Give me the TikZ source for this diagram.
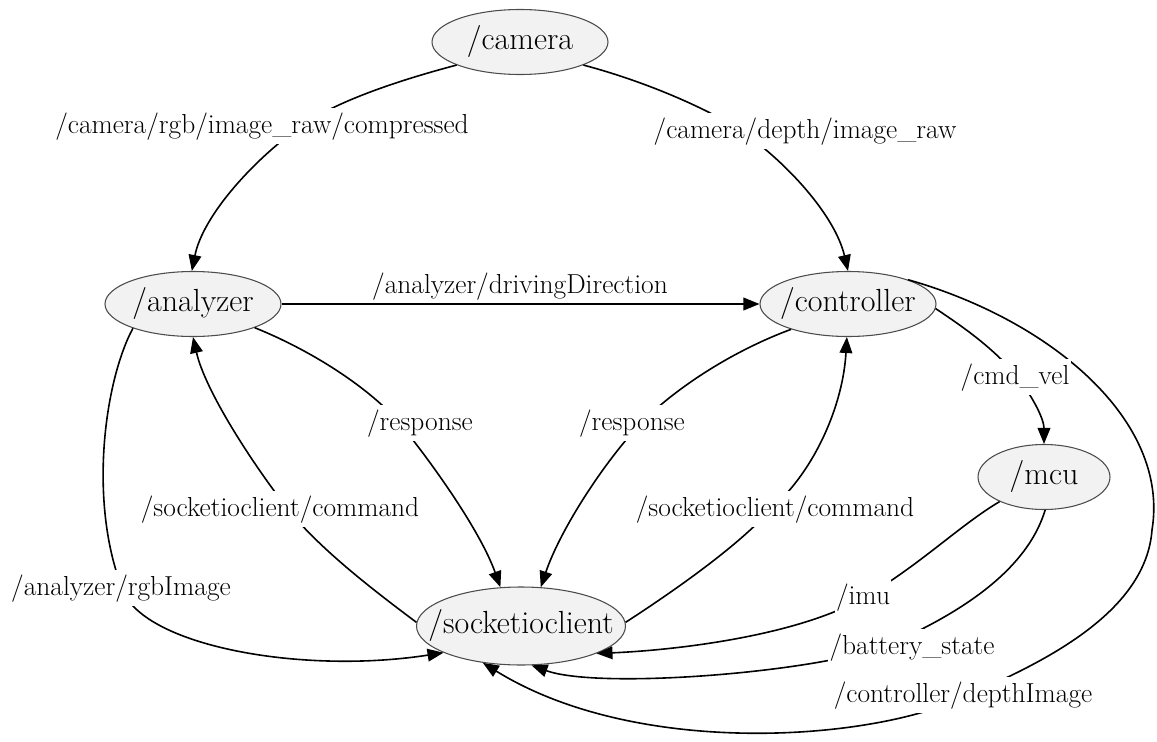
\documentclass[tikz,border=0pt]{standalone}
\usetikzlibrary{arrows.meta,shapes.geometric}

\tikzset{
  topic/.style={ellipse, draw=black!70, line width=0.8pt, fill=black!5,
    inner sep=0pt, minimum width=132pt, minimum height=48.75pt,
    font=\fontsize{24}{28}\selectfont, text height=16.5pt, text depth=5pt},
  msg/.style={->, >={Triangle[length=12pt,width=9.5pt]}, line width=1.2pt},
  lbl/.style={anchor=base, fill=white, inner xsep=1pt, inner ysep=3pt,
    font=\fontsize{20.6}{24}\selectfont},
}

\begin{document}
\begin{tikzpicture}[x=0.75pt,y=-0.75pt]
\useasboundingbox (0,0) rectangle (1157,742);

% ROS nodes
\node[topic] (camera) at (520,42) {\makebox[0pt]{/camera}};
\node[topic] (analyzer) at (193,304) {\makebox[0pt]{/analyzer}};
\node[topic] (controller) at (848,304) {\makebox[0pt]{/controller}};
\node[topic, minimum width=99pt] (mcu) at (1044,477) {\makebox[0pt]{/mcu}};
\node[topic, minimum width=156.75pt, minimum height=58.5pt] (sock) at (521,626) {\makebox[0pt]{/socketioclient}};

% topics
\draw[msg] (camera.200) .. controls (400,80) and (340,100) .. (304,124)
  .. controls (255,158) and (203,215) .. (analyzer.92);
\draw[msg] (camera.340) .. controls (640,80) and (700,105) .. (737,128)
  .. controls (785,160) and (835,215) .. (controller.90);
\draw[msg] (analyzer) -- (controller);
\draw[msg] (analyzer.339) .. controls (310,350) and (365,385) .. (397,420)
  .. controls (430,460) and (480,530) .. (sock.118);
\draw[msg] (sock.178) .. controls (380,595) and (320,550) .. (287,508)
  .. controls (250,460) and (205,390) .. (analyzer.270);
\draw[msg] (controller.204) .. controls (735,350) and (680,385) .. (644,420)
  .. controls (605,460) and (560,530) .. (sock.63);
\draw[msg] (sock.2) .. controls (660,600) and (735,550) .. (772,508)
  .. controls (815,470) and (843,405) .. (controller.268);
\draw[msg] (controller.-3) .. controls (960,325) and (990,345) .. (1016,375)
  .. controls (1035,400) and (1044,420) .. (mcu.90);
\draw[msg] (analyzer.202) .. controls (105,380) and (88,500) .. (122,588)
  .. controls (140,645) and (300,675) .. (sock.199);
\draw[msg] (mcu.209) .. controls (960,525) and (920,565) .. (865,597)
  .. controls (800,635) and (680,650) .. (sock.340);
\draw[msg] (mcu.272) .. controls (1030,560) and (980,605) .. (888,645)
  .. controls (820,672) and (600,690) .. (sock.285);
\draw[msg] (controller.22) .. controls (1050,320) and (1170,420) .. (1152,530)
  .. controls (1146,610) and (1050,660) .. (968,695)
  .. controls (880,740) and (640,760) .. (sock.224);

% topic names
\node[lbl] (t1) at (262,133) {/camera/rgb/image\_raw/compressed};
\node[lbl] (t2) at (805,138) {/camera/depth/image\_raw};
\node[lbl, fill=none] (t3) at (520,293) {/analyzer/drivingDirection};
\node[lbl] (t4) at (420,430) {/response};
\node[lbl] (t5) at (632,430) {/response};
\node[lbl] (t6) at (280,516) {/socketioclient/command};
\node[lbl] (t7) at (775,516) {/socketioclient/command};
\node[lbl] (t8) at (1015,384) {/cmd\_vel};
\node[lbl] (t9) at (121,595) {/analyzer/rgbImage};
\node[lbl] (t10) at (863,604) {/imu};
\node[lbl] (t11) at (912,654) {/battery\_state};
\node[lbl] (t12) at (963,702) {/controller/depthImage};
\end{tikzpicture}
\end{document}
